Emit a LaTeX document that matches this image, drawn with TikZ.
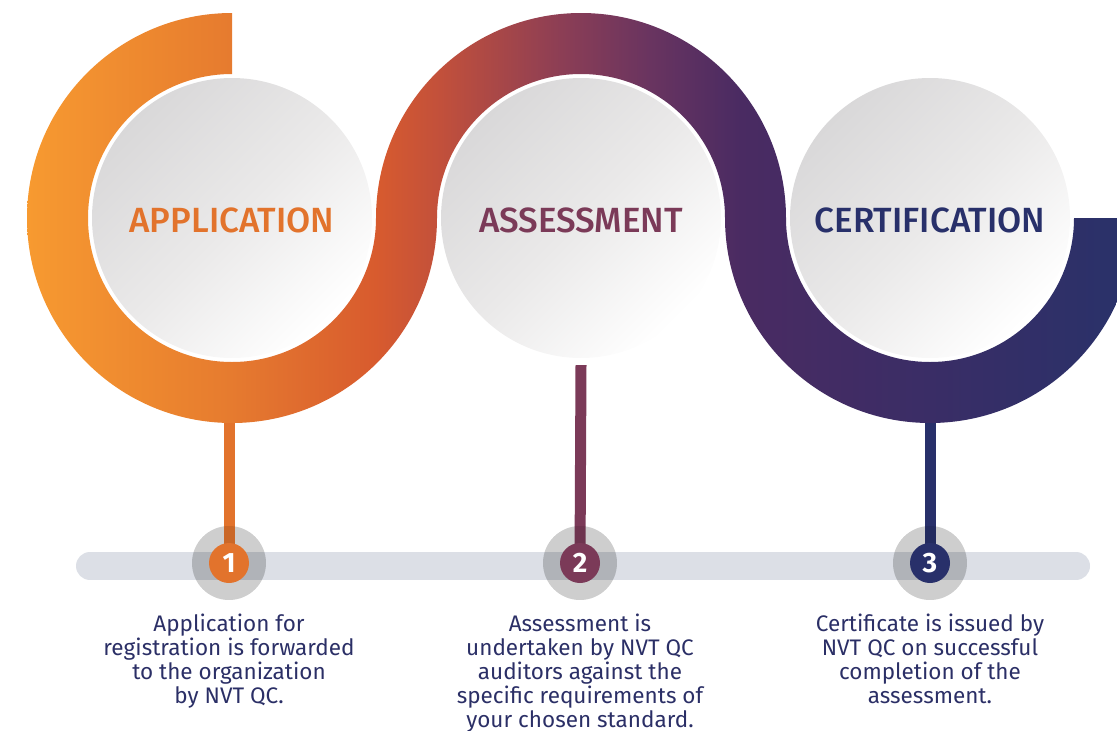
\documentclass[tikz,border=0pt]{standalone}
\usepackage{fontspec}
\setmainfont{Fira Sans}
\newfontfamily\headfont{Fira Sans Medium}
\usepackage{tikz}
\usetikzlibrary{positioning}

\definecolor{rbA}{HTML}{F79A30}
\definecolor{rbB}{HTML}{E67B2F}
\definecolor{rbC}{HTML}{D85B2E}
\definecolor{rbD}{HTML}{C2503B}
\definecolor{rbE}{HTML}{8C3E55}
\definecolor{rbF}{HTML}{693460}
\definecolor{rbG}{HTML}{4A2B62}
\definecolor{rbH}{HTML}{3A2D66}
\definecolor{rbI}{HTML}{2A3169}
\definecolor{hubTop}{HTML}{D9D8D9}
\definecolor{hubMid}{HTML}{EAE9E9}
\definecolor{numOrange}{HTML}{E2732C}
\definecolor{numPlum}{HTML}{7B3A58}
\definecolor{numNavy}{HTML}{28306A}
\definecolor{txtNavy}{HTML}{2B2F66}
\definecolor{trackGray}{HTML}{DCDFE6}

\pgfdeclarehorizontalshading{ribbon}{100bp}{color(0bp)=(rbA); color(26.2bp)=(rbA);
  color(35.3bp)=(rbB); color(41.8bp)=(rbC); color(44.7bp)=(rbD); color(50.1bp)=(rbE);
  color(54.1bp)=(rbF); color(58.1bp)=(rbG); color(66.6bp)=(rbH); color(75bp)=(rbI);
  color(100bp)=(rbI)}

\begin{document}
\begin{tikzpicture}[x=1pt,y=1pt,
    hub/.style={circle,minimum size=280pt,inner sep=0pt,text height=29pt,top color=hubTop,bottom color=white,middle color=hubMid,shading angle=45,font=\headfont\fontsize{35}{35}\selectfont},
    halo/.style={circle,minimum size=74pt,inner sep=0pt,fill=black,fill opacity=.1},
    numdot/.style={circle,minimum size=40pt,inner sep=0pt,text=white,font=\bfseries\fontsize{28}{28}\selectfont},
    stalk/.style={line width=11pt},
    blurb/.style={align=center,inner sep=0pt,text=txtNavy,font=\fontsize{22.5}{24}\selectfont}]
    \useasboundingbox (0,0) rectangle (1117,-731);
    \clip (0,0) rectangle (1117,-731);
    % track
    \coordinate (trackL) at (90,-566);
    \coordinate (trackR) at (1076,-566);
    \draw[trackGray,line width=28pt,line cap=round] (trackL) -- (trackR);
    % numbers
    \node[halo] (h1) at (229,-563) {};
    \node[halo] (h2) at (580,-563) {};
    \node[halo] (h3) at (930,-563) {};
    \coordinate (b1) at (229,-412);
    \coordinate (b3) at (930,-412);
    \draw[stalk,numOrange] (b1) -- (h1.center);
    \draw[stalk,numNavy] (b3) -- (h3.center);
    % ribbon
    \begin{scope}
      \clip (232,-13) -- (232,-74) arc[start angle=90,end angle=360,radius=144]
        arc[start angle=180,end angle=0,radius=205]
        arc[start angle=180,end angle=360,radius=144] -- (1135,-218)
        arc[start angle=0,end angle=-180,radius=205]
        arc[start angle=0,end angle=180,radius=144]
        arc[start angle=0,end angle=-270,radius=205] -- cycle;
      \shade[shading=ribbon] (0,0) rectangle (1117,-731);
    \end{scope}
    % circles
    \node[hub,text=numOrange] (app) at (232,-218) {APPLICATION};
    \node[hub,text=numPlum] (ass) at (581,-218) {ASSESSMENT};
    \node[hub,text=numNavy] (cert) at (930,-218) {CERTIFICATION};
    \coordinate (b2) at ([yshift=-7pt]ass.south);
    \draw[stalk,numPlum] (b2) -- (h2.center);
    \node[halo] at (h1) {};
    \node[halo] at (h2) {};
    \node[halo] at (h3) {};
    \node[numdot,fill=numOrange] (n1) at (h1) {1};
    \node[numdot,fill=numPlum] (n2) at (h2) {2};
    \node[numdot,fill=numNavy] (n3) at (h3) {3};
    % texts
    \node[blurb] (t1) [below=31pt of n1] {Application for\\ registration is forwarded\\ to the organization\\ by NVT QC.};
    \node[blurb] (t2) [below=31pt of n2] {Assessment is\\ undertaken by NVT QC\\ auditors against the\\ specific requirements of\\ your chosen standard.};
    \node[blurb] (t3) [below=31pt of n3] {Certificate is issued by\\ NVT QC on successful\\ completion of the\\ assessment.};
\end{tikzpicture}
\end{document}
